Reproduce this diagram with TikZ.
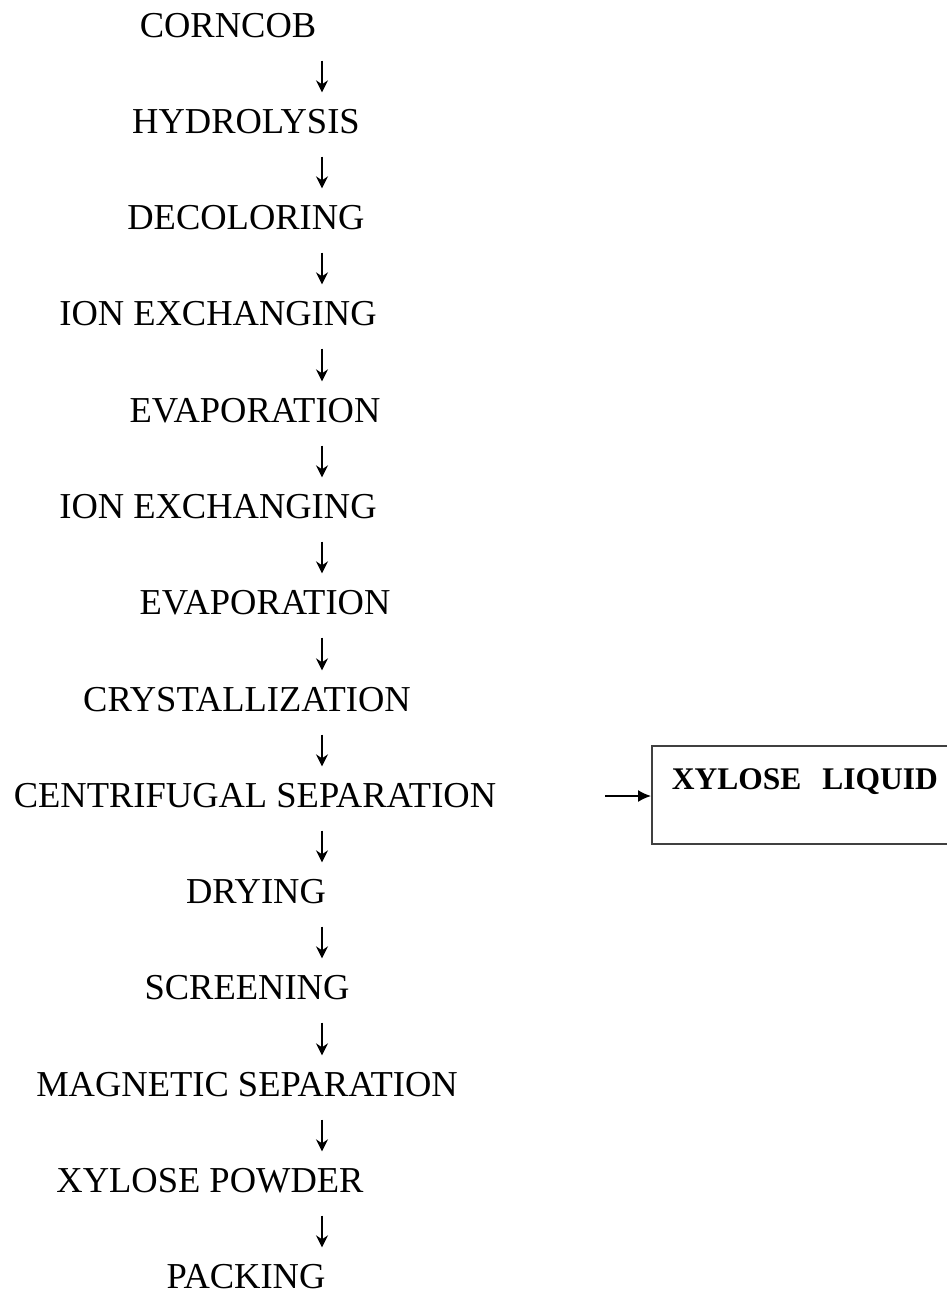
\documentclass[tikz,border=0pt]{standalone}
\usepackage{fontspec}
\setmainfont{Liberation Serif}
\usetikzlibrary{arrows.meta}
\tikzset{
  stage/.style={inner sep=0pt, text height=25pt, text depth=0pt, font=\fontsize{36.5}{44}\selectfont},
  down/.style={line width=1.5pt, -{Stealth[length=12pt,width=12pt,inset=4pt]}, shorten <=23pt, shorten >=16pt},
}
\begin{document}
\begin{tikzpicture}[x=1pt,y=-1pt]
\useasboundingbox (0,0) rectangle (946,1293);
\coordinate (ax) at (322,0);
\node[stage] (s1) at (228,25) {CORNCOB};
\node[stage] (s2) at (246,121) {HYDROLYSIS};
\node[stage] (s3) at (246,217) {DECOLORING};
\node[stage] (s4) at (218,313) {ION EXCHANGING};
\node[stage] (s5) at (255,410) {EVAPORATION};
\node[stage] (s6) at (218,506) {ION EXCHANGING};
\node[stage] (s7) at (265,602) {EVAPORATION};
\node[stage] (s8) at (247,699) {CRYSTALLIZATION};
\node[stage] (s9) at (255,795) {CENTRIFUGAL SEPARATION};
\node[stage] (s10) at (256,891) {DRYING};
\node[stage] (s11) at (247,987) {SCREENING};
\node[stage] (s12) at (247,1084) {MAGNETIC SEPARATION};
\node[stage] (s13) at (210,1180) {XYLOSE POWDER};
\node[stage] (s14) at (246,1276) {PACKING};
% arrows down the chain
\draw[down] (s1.south -| ax) -- (s2.north -| ax);
\draw[down] (s2.south -| ax) -- (s3.north -| ax);
\draw[down] (s3.south -| ax) -- (s4.north -| ax);
\draw[down] (s4.south -| ax) -- (s5.north -| ax);
\draw[down] (s5.south -| ax) -- (s6.north -| ax);
\draw[down] (s6.south -| ax) -- (s7.north -| ax);
\draw[down] (s7.south -| ax) -- (s8.north -| ax);
\draw[down] (s8.south -| ax) -- (s9.north -| ax);
\draw[down] (s9.south -| ax) -- (s10.north -| ax);
\draw[down] (s10.south -| ax) -- (s11.north -| ax);
\draw[down] (s11.south -| ax) -- (s12.north -| ax);
\draw[down] (s12.south -| ax) -- (s13.north -| ax);
\draw[down] (s13.south -| ax) -- (s14.north -| ax);
% side box
\node[draw, draw=black!75, line width=1.8pt, anchor=north west, minimum width=340pt, inner xsep=17pt, inner ysep=0pt,
  text height=44pt, text depth=54pt, text width=300pt, align=left,
  font=\fontsize{31.5}{38}\selectfont\bfseries] (liquid) at (651,745) {XYLOSE\ \ LIQUID};
\coordinate (tail) at (605,796);
\draw[line width=1.5pt, -{Latex[length=13pt,width=12pt]}] (tail) -- (liquid.west |- tail);
\end{tikzpicture}
\end{document}
